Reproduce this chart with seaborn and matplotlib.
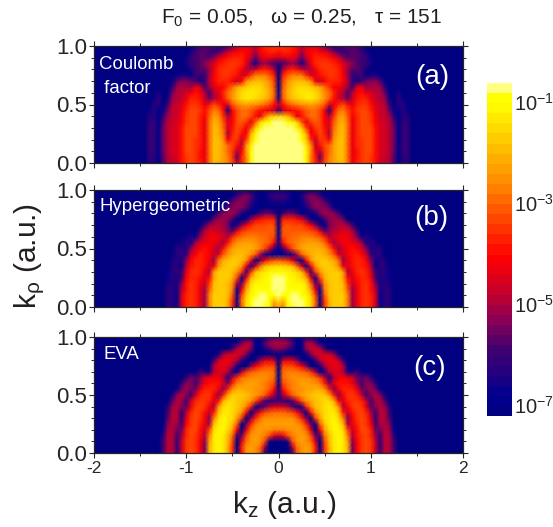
# Momentum maps for the three models
import numpy as np
import matplotlib
matplotlib.use("Agg")
import matplotlib.pyplot as plt
from matplotlib.colors import LinearSegmentedColormap, ListedColormap
import seaborn as sns

# Set the style
sns.set_style("ticks")
plt.rcParams["font.family"] = ["Liberation Sans", "DejaVu Sans"]
plt.rcParams["mathtext.fontset"] = "custom"
plt.rcParams["mathtext.rm"] = "Liberation Sans"
plt.rcParams["mathtext.default"] = "regular"
plt.rcParams["text.color"] = "#231f20"

# Grid step in a.u. and floor of the colour scale
step = 0.05
floor = 72
n_cols = 30

# -10*log10(yield), rows from k_rho = 0 to 1, columns from k_z = 0 to 1.45
coulomb = [
    [7,7,7,7,7,8,12,28,38,46,34,28,23,21,20,30,44,38,36,34,36,40,47,48,50,58,70,64,64,72],
    [7,7,7,7,7,8,12,28,38,58,36,28,23,20,20,30,44,39,35,33,35,40,46,47,50,58,70,63,62,72],
    [7,7,7,7,7,8,12,26,42,50,36,29,23,20,19,29,44,39,35,34,34,39,45,46,49,56,70,62,62,72],
    [7,7,7,7,7,8,13,26,48,40,34,30,24,20,19,29,44,38,35,34,34,39,45,46,49,56,70,62,62,72],
    [7,7,7,7,7,9,17,36,48,36,36,42,26,20,19,29,43,38,35,34,34,39,45,46,49,56,70,62,62,72],
    [7,7,7,7,8,11,22,42,40,33,38,50,28,21,19,29,43,38,34,34,34,39,45,46,49,56,70,62,62,72],
    [7,7,7,8,11,18,34,44,36,33,40,46,30,22,20,29,43,38,34,34,34,39,45,46,49,56,70,62,62,72],
    [8,8,9,11,16,32,44,36,32,34,42,46,32,23,21,30,43,38,34,34,35,41,46,47,50,58,70,62,63,72],
    [16,17,20,30,44,40,34,30,30,33,42,50,36,26,23,31,42,38,34,34,36,42,47,47,52,62,70,63,64,72],
    [62,48,44,42,40,36,32,30,30,33,42,65,40,30,27,33,40,36,34,34,38,44,47,48,55,68,68,63,68,72],
    [48,40,33,30,28,26,25,24,25,28,32,46,44,38,33,40,44,38,35,36,40,46,48,49,60,72,64,64,72,72],
    [66,32,24,20,17,15,14,14,16,20,26,32,40,46,50,55,48,40,37,38,44,48,49,52,66,72,62,68,72,72],
    [68,30,22,18,15,14,14,14,16,20,25,30,38,46,50,60,50,42,40,44,46,50,50,56,70,72,66,72,72,72],
    [70,31,23,19,16,15,15,17,19,23,30,36,42,42,46,52,60,46,44,52,52,50,52,62,72,72,72,72,72,72],
    [72,34,26,22,20,20,22,25,42,48,42,38,37,38,41,50,62,66,60,56,54,54,58,68,72,72,72,72,72,72],
    [72,38,32,28,27,28,36,44,46,40,37,36,36,38,42,52,62,62,60,70,66,66,68,72,72,72,72,72,72,72],
    [72,50,40,38,40,46,50,50,42,37,36,36,36,38,44,52,58,58,60,66,72,72,72,72,72,72,72,72,72,72],
    [62,60,55,52,56,66,56,44,38,36,36,36,37,40,46,50,54,58,60,62,66,72,72,72,72,72,72,72,72,72],
    [48,46,44,44,48,58,48,42,38,37,38,39,42,46,54,58,58,58,59,62,68,72,72,72,72,72,72,72,72,72],
    [40,38,38,39,42,52,44,41,40,41,44,48,54,60,62,60,58,58,60,66,72,72,72,72,72,72,72,72,72,72],
    [36,36,37,38,42,50,46,44,46,50,56,62,68,62,60,58,58,60,66,72,72,72,72,72,72,72,72,72,72,72],
]
hypergeometric = [
    [24,28,10,9,8,8,10,15,32,66,36,21,18,17,17,27,52,44,38,36,38,46,68,64,63,72],
    [15,22,9,7,7,8,10,16,30,66,36,21,18,17,17,27,52,44,38,36,38,46,68,64,63,72],
    [8,10,9,8,8,9,11,17,34,66,32,20,18,17,18,28,52,44,38,36,38,46,68,64,63,72],
    [7,8,9,10,10,10,13,24,44,68,28,20,18,17,19,31,52,43,37,36,39,50,66,63,64,72],
    [7,8,10,11,11,12,15,30,56,52,25,20,17,18,20,35,48,42,37,36,40,54,66,63,65,72],
    [7,8,10,12,13,15,22,44,68,34,21,18,17,18,23,40,46,40,37,37,42,60,65,64,68,72],
    [10,11,12,13,16,20,36,60,36,25,19,17,17,18,24,50,44,38,36,38,45,60,64,63,68,72],
    [15,15,17,20,30,45,66,44,26,19,17,17,19,25,44,46,40,37,37,40,50,68,64,63,72],
    [32,33,36,44,58,70,40,26,20,18,18,19,22,29,52,44,39,37,37,42,54,66,64,66,72],
    [70,70,68,66,50,32,25,21,19,19,21,26,32,45,48,42,39,38,42,48,62,64,64,72],
    [68,60,46,34,28,24,22,21,21,22,24,30,40,52,46,42,40,41,46,54,66,63,64,72],
    [66,40,32,29,27,26,24,24,24,26,30,40,52,46,44,42,43,46,52,66,64,66,72],
    [68,34,31,30,29,28,27,28,29,32,38,50,46,44,42,44,47,54,68,64,68,72],
    [70,32,31,31,31,31,31,33,36,44,58,54,50,48,46,46,50,60,72],
    [72,33,32,33,33,34,37,42,54,66,70,56,52,50,50,52,60,72],
    [72,38,37,38,40,44,54,68,72,72,60,54,52,52,56,72],
    [72,60,56,56,60,68,72,72,66,56,52,52,54,60,72],
    [72,72,72,72,72,70,66,58,54,53,54,58,68,72],
    [66,66,68,72,72,68,60,55,53,54,58,66,72],
    [60,60,63,70,72,66,58,54,55,60,70,72],
    [68,68,70,72],
]
eva = [
    [72,72,72,60,32,25,24,26,40,72,36,22,14,11,13,22,56,42,35,33,36,48,62,50,50,60,72],
    [72,72,72,52,30,25,24,26,38,70,36,22,14,11,13,22,56,42,35,33,36,48,62,50,50,60,72],
    [72,72,66,34,26,24,25,29,46,72,33,20,13,11,13,24,54,41,35,33,36,48,62,50,50,60,72],
    [50,44,34,28,25,24,25,34,56,60,30,19,13,11,14,28,50,40,35,33,37,52,60,50,50,64,72],
    [28,28,26,25,24,25,29,46,72,42,24,16,12,11,15,34,48,39,34,34,38,56,56,50,52,68,72],
    [24,24,24,24,25,27,38,56,72,32,20,14,11,13,20,50,44,37,34,35,42,60,52,50,54,72],
    [25,25,25,26,29,38,54,72,36,23,16,13,12,16,28,54,42,36,34,36,46,62,50,50,58,72],
    [30,30,31,34,40,54,72,40,26,19,15,13,14,20,38,48,40,35,34,37,50,62,50,50,60,72],
    [46,46,50,58,66,66,38,27,20,17,15,14,16,26,50,42,36,34,36,44,58,54,50,52,64,72],
    [62,62,64,60,46,34,26,22,19,17,15,16,22,40,46,38,35,35,38,48,60,52,50,58,72],
    [62,52,40,32,28,24,22,20,18,17,18,24,38,54,42,36,36,38,48,60,54,50,54,66,72],
    [66,40,31,28,26,25,24,23,22,22,25,38,54,44,38,37,38,44,56,56,52,56,68,72],
    [70,33,29,27,25,24,24,24,25,28,38,54,46,40,39,40,44,52,60,54,54,62,72],
    [70,30,27,26,26,26,26,27,29,35,48,66,50,44,42,44,46,56,58,56,62,72],
    [70,30,28,28,28,29,31,36,50,68,66,50,46,46,50,66,66,60,70,72],
    [72,34,33,34,37,42,54,72,72,66,52,46,44,44,50,68,72],
    [72,48,44,46,54,66,72,72,62,50,46,44,44,48,62,72],
    [70,72,72,72,72,72,68,56,48,46,46,46,52,66,72],
    [54,56,60,66,72,70,54,48,47,50,60,72],
    [50,50,52,58,70,68,52,50,56,68,72],
    [62,62,66,72,72,70,72],
]

# Colour scale anchors, from the bottom of the colour bar up
cmap_stops = [0.0, 0.05, 0.11, 0.19, 0.27, 0.36, 0.48, 0.72, 0.955, 1.0]
cmap_colors = ["#000080", "#000090", "#200080", "#400070", "#80005a", "#c00030",
               "#ff0000", "#ff9000", "#ffff00", "#ffff00"]
n_levels = 33
log_min, log_max = -7.22, -0.62

panel_data = [coulomb, hypergeometric, eva]
panel_tags = ["(a)", "(b)", "(c)"]
panel_boxes = [(46, 163), (190, 307), (337, 453)]
tag_pos = [(0.918, 0.735), (0.915, 0.76), (0.91, 0.73)]
names = [[("Coulomb", 0.0135, 0.846), (" factor", 0.0135, 0.64)],
         [("Hypergeometric", 0.016, 0.855)],
         [("EVA", 0.027, 0.845)]]
x_ticks = [-2, -1, 0, 1, 2]
x_minor = [-1.5, -0.5, 0.5, 1.5]
y_ticks = [0.0, 0.5, 1.0]
y_minor = [0.1, 0.2, 0.3, 0.4, 0.6, 0.7, 0.8, 0.9]
bar_ticks = [-1, -3, -5, -7]

# Build the colour map
base = LinearSegmentedColormap.from_list("scale", list(zip(cmap_stops, cmap_colors)))
levels = base(np.linspace(0, 1, n_levels))
levels[-1] = matplotlib.colors.to_rgba("#ffff80")
cmap = ListedColormap(levels)

width, height = 553, 527
fig = plt.figure(figsize=(width / 100, height / 100), dpi=100)
cax = fig.add_axes([487 / width, 1 - 416 / height, 25 / width, 333 / height])

for i, rows in enumerate(panel_data):
    top, bottom = panel_boxes[i]
    ax = fig.add_axes([94 / width, 1 - bottom / height, 369 / width, (bottom - top) / height])

    # Half plane to full plane, then fill out to k_z = +-2
    half = np.array([r + [floor] * (n_cols - len(r)) for r in rows], dtype=float)
    full = np.hstack([half[:, :0:-1], half])
    full = np.pad(full, ((0, 0), (11, 11)), constant_values=floor)

    last = i == len(panel_data) - 1
    sns.heatmap(
        -full / 10,
        ax=ax,
        cmap=cmap,
        vmin=log_min,
        vmax=log_max,
        shading="gouraud",
        xticklabels=False,
        yticklabels=False,
        cbar=last,
        cbar_ax=cax if last else None,
        cbar_kws={"ticks": bar_ticks} if last else None)

    ax.set_xlim(0, 80)
    ax.set_ylim(0, 20)
    ax.set_xticks([(k + 2) / step for k in x_ticks])
    ax.set_xticks([(k + 2) / step for k in x_minor], minor=True)
    ax.set_yticks([k / step for k in y_ticks])
    ax.set_yticks([k / step for k in y_minor], minor=True)
    ax.set_xticklabels([str(k) for k in x_ticks] if last else [])
    ax.set_yticklabels(["%.1f" % k for k in y_ticks])
    ax.tick_params(which="major", length=3.5, width=0.8, top=True, right=True, pad=1.5, rotation=0)
    ax.tick_params(which="minor", length=2, width=0.7, top=True, right=True)
    ax.tick_params(axis="x", which="major", labelsize=12.5, pad=2.5)
    ax.tick_params(axis="y", which="major", labelsize=16)
    for side in ax.spines.values():
        side.set_visible(True)
        side.set_linewidth(0.9)

    ax.text(tag_pos[i][0], tag_pos[i][1], panel_tags[i], transform=ax.transAxes,
            color="white", fontsize=20, ha="center", va="center")
    for label, x, y in names[i]:
        ax.text(x, y, label, transform=ax.transAxes, color="white", fontsize=13.4,
                ha="left", va="center")

# Colour bar
cax.set_yticklabels(["10$^{%d}$" % k for k in bar_ticks])
cax.tick_params(length=0, labelsize=14.5, pad=1.5)
ax.collections[0].colorbar.outline.set_visible(False)

fig.text(302 / width, 1 - 18 / height, "F$_0$ = 0.05,   ω = 0.25,   τ = 151", fontsize=15,
         ha="center", va="center")
fig.text(284 / width, 1 - 505 / height, "k$_z$ (a.u.)", fontsize=21.5, ha="center", va="center")
fig.text(30 / width, 1 - 256 / height, "k$_ρ$ (a.u.)", fontsize=21.5, rotation=90, ha="center", va="center")

fig.savefig("out.png", dpi=100)
